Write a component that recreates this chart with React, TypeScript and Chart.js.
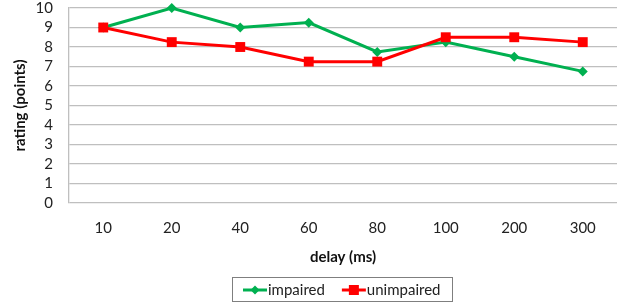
import React, { useEffect, useRef } from "react";
import { Chart, registerables } from "chart.js";

Chart.register(...registerables);

const categories = ["10", "20", "40", "60", "80", "100", "200", "300"];
const impaired = [9, 10, 9, 9.25, 7.75, 8.25, 7.5, 6.75];
const unimpaired = [9, 8.25, 8, 7.25, 7.25, 8.5, 8.5, 8.25];
const seriesNames = ["impaired", "unimpaired"];
const yTicks = [0, 1, 2, 3, 4, 5, 6, 7, 8, 9, 10];

const GREEN = "#00B050";
const RED = "#FF0000";
const FONT = "Lato, 'Open Sans', sans-serif";
const FS = 15;

function drawMarker(ctx: CanvasRenderingContext2D, i: number, cx: number, cy: number) {
  if (i === 0) {
    ctx.beginPath();
    ctx.moveTo(cx, cy - 4.5);
    ctx.lineTo(cx + 4.5, cy);
    ctx.lineTo(cx, cy + 4.5);
    ctx.lineTo(cx - 4.5, cy);
    ctx.closePath();
    ctx.fill();
  } else {
    ctx.fillRect(cx - 5, cy - 5, 10, 10);
  }
}

export default function App() {
  const ref = useRef<HTMLCanvasElement | null>(null);

  useEffect(() => {
    document.body.style.margin = "0";

    const customLegend = {
      id: "customLegend",
      afterDraw(chart: any) {
        const ctx: CanvasRenderingContext2D = chart.ctx;
        const colors = [GREEN, RED];
        ctx.save();
        ctx.font = `${FS}px ${FONT}`;
        const sym = 26;
        const gap = 16;
        const widths = seriesNames.map((n) => sym + ctx.measureText(n).width);
        const total = widths.reduce((a, b) => a + b, 0) + gap;
        const padX = 11;
        const ca = chart.chartArea;
        const cxc = (ca.left + ca.right) / 2 - 1;
        const boxL = Math.round(cxc - total / 2 - padX);
        const boxW = Math.round(total + 2 * padX);
        const boxT = chart.height - 27;
        const boxH = 24;
        ctx.strokeStyle = "#7f7f7f";
        ctx.lineWidth = 1;
        ctx.strokeRect(boxL + 0.5, boxT + 0.5, boxW, boxH);
        let x = boxL + padX;
        const cy = boxT + boxH / 2 + 1;
        seriesNames.forEach((n, i) => {
          ctx.strokeStyle = colors[i];
          ctx.fillStyle = colors[i];
          ctx.lineWidth = 3;
          ctx.beginPath();
          ctx.moveTo(x, cy);
          ctx.lineTo(x + 24, cy);
          ctx.stroke();
          drawMarker(ctx, i, x + 12, cy);
          ctx.fillStyle = "#222";
          ctx.textBaseline = "middle";
          ctx.textAlign = "left";
          ctx.fillText(n, x + sym - 1, cy);
          x += widths[i] + gap;
        });
        ctx.restore();
      },
    };

    const chart = new Chart(ref.current!, {
      type: "line",
      data: {
        labels: categories,
        datasets: [
          {
            label: seriesNames[0],
            data: impaired,
            borderColor: GREEN,
            backgroundColor: GREEN,
            borderWidth: 3,
            pointStyle: "rectRot",
            pointRadius: 5,
            pointBorderWidth: 0,
            tension: 0,
            order: 1,
            clip: false,
          },
          {
            label: seriesNames[1],
            data: unimpaired,
            borderColor: RED,
            backgroundColor: RED,
            borderWidth: 3,
            pointStyle: "rect",
            pointRadius: 7,
            pointBorderWidth: 0,
            tension: 0,
            order: 0,
            clip: false,
          },
        ],
      },
      options: {
        responsive: false,
        animation: false,
        layout: { padding: { left: 0, right: 3, top: 0, bottom: 30 } },
        scales: {
          x: {
            offset: true,
            grid: { display: false, drawTicks: false },
            border: { display: false },
            ticks: { padding: 16, color: "#222", font: { family: FONT, size: FS } },
            title: {
              display: true,
              text: "delay (ms)",
              color: "#111",
              font: { family: FONT, size: FS, weight: "bold" },
              padding: { top: 6, bottom: 8 },
            },
            afterFit(scale: any) {
              scale.height = 71;
            },
          },
          y: {
            min: 0,
            max: 10,
            afterBuildTicks(scale: any) {
              scale.ticks = yTicks.map((v) => ({ value: v }));
            },
            ticks: { autoSkip: false, padding: 16, color: "#222", font: { family: FONT, size: FS } },
            grid: { color: "#BFBFBF", lineWidth: 1.3, drawTicks: false },
            border: { display: true, color: "#BFBFBF", width: 1.3 },
            title: {
              display: true,
              text: "rating (points)",
              color: "#111",
              font: { family: FONT, size: FS, weight: "bold" },
              padding: { top: 11, bottom: 4 },
            },
            afterFit(scale: any) {
              scale.width = 69;
              scale.paddingTop = 8;
              scale.paddingBottom = 0;
            },
          },
        },
        plugins: {
          tooltip: { enabled: false },
          legend: { display: false },
        },
      },
      plugins: [customLegend],
    } as any);
    return () => chart.destroy();
  }, []);

  return (
    <div style={{ width: 624, height: 304 }}>
      <canvas ref={ref} width={624} height={304} style={{ display: "block" }} />
    </div>
  );
}
